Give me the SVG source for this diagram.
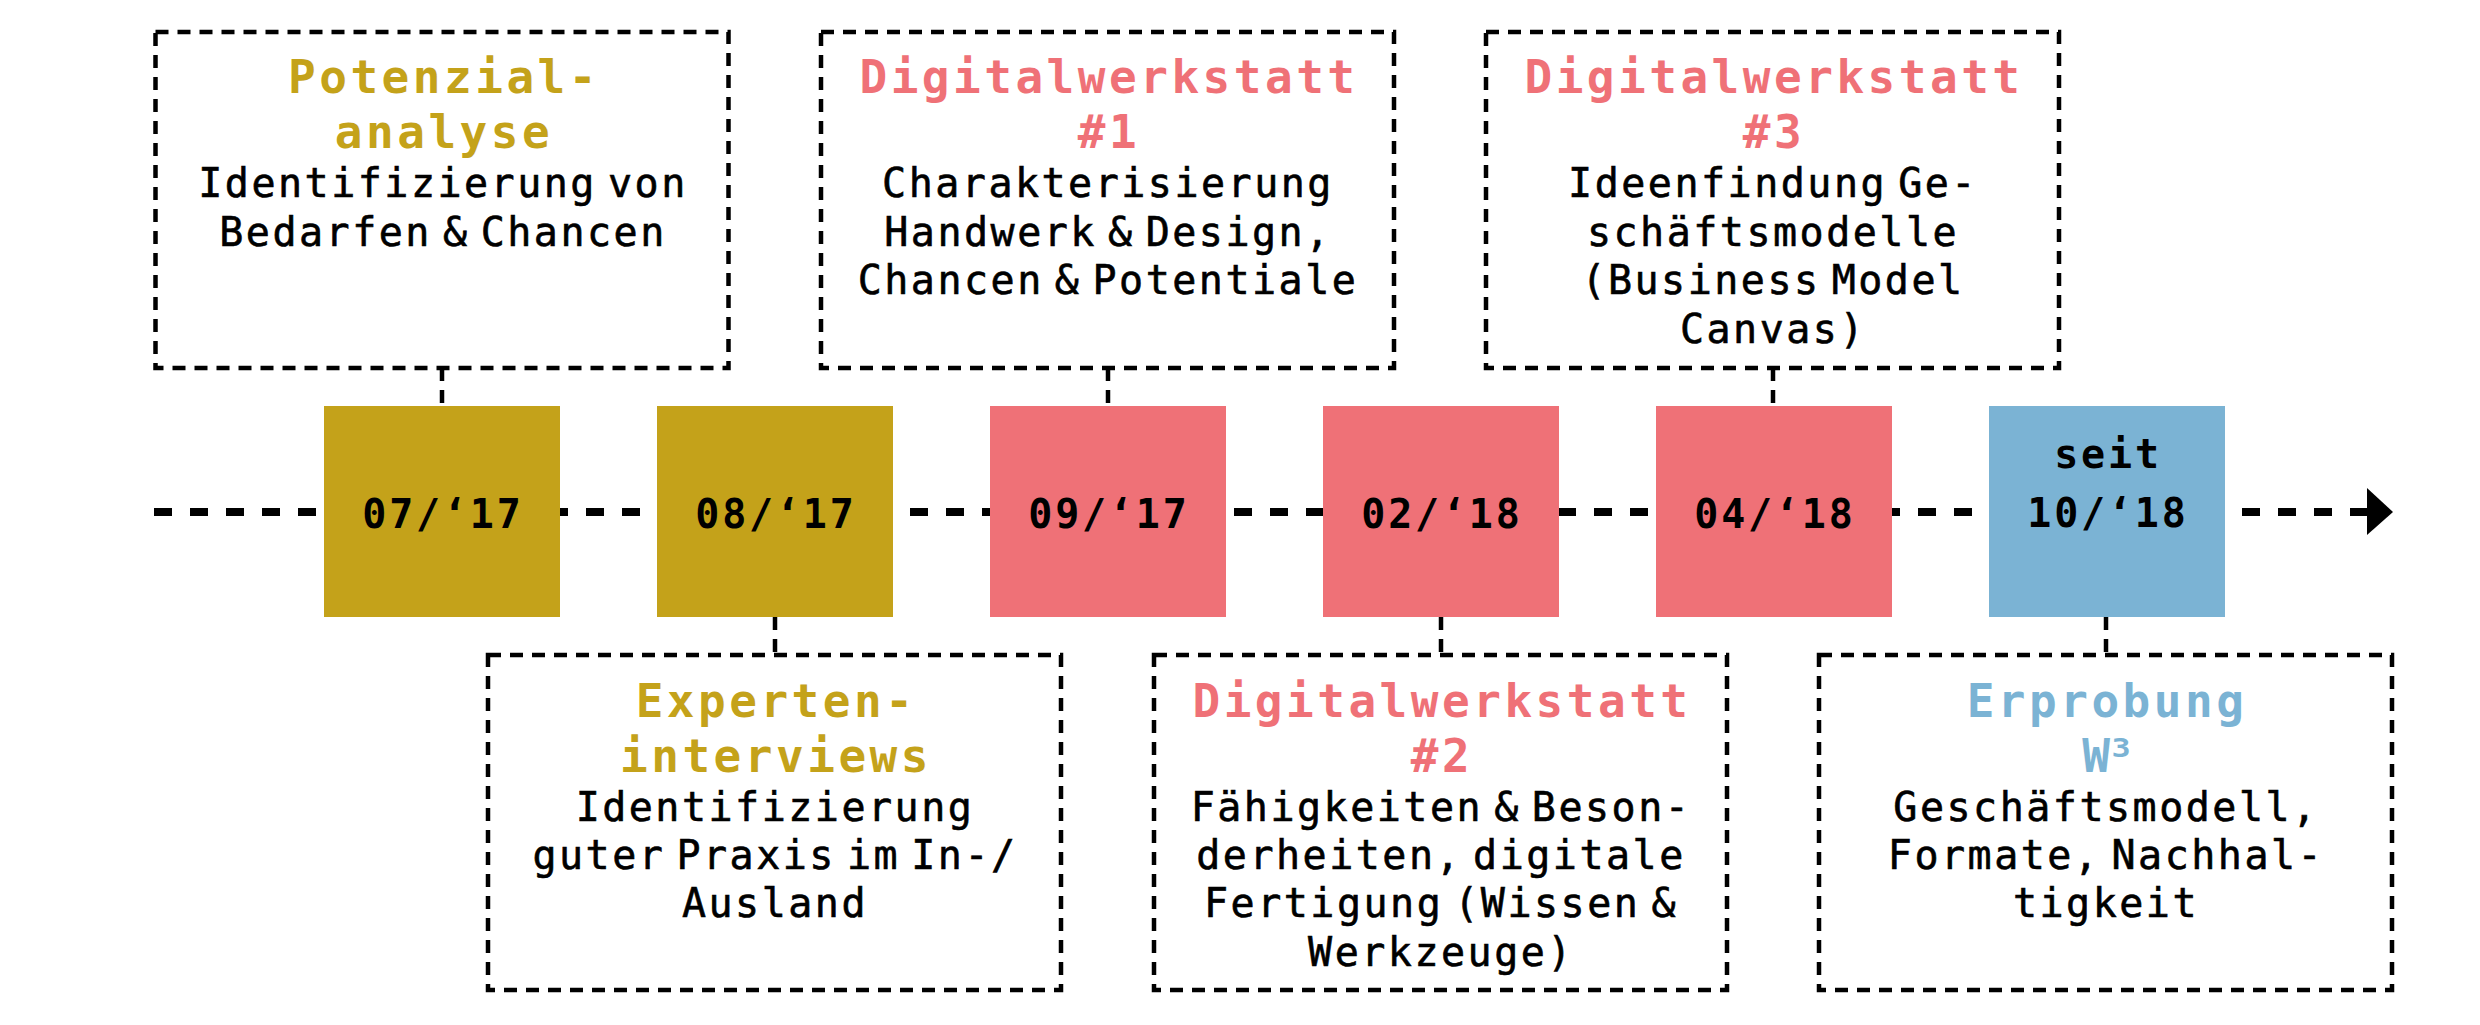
<svg xmlns="http://www.w3.org/2000/svg" width="2480" height="1025" viewBox="0 0 2480 1025">
<defs>
<style>
.box{fill:none;stroke:#000;stroke-width:4.5;stroke-dasharray:13 9}
.stub{stroke:#000;stroke-width:4.5;stroke-dasharray:13 9}
.axis{stroke:#000;stroke-width:8;stroke-dasharray:18 18;fill:none}
.h{font-family:"DejaVu Sans Mono","Liberation Mono",monospace;font-weight:bold;font-size:46px;letter-spacing:3.5px;text-anchor:middle}
.b{font-family:"DejaVu Sans Mono","Liberation Mono",monospace;font-size:40px;letter-spacing:2.5px;word-spacing:-15.5px;text-anchor:middle;fill:#000;stroke:#000;stroke-width:0.6px}
.d{font-family:"DejaVu Sans Mono","Liberation Mono",monospace;font-weight:bold;font-size:40px;letter-spacing:2.8px;text-anchor:middle;fill:#000}
.gold{fill:#C4A21A}
.pink{fill:#EF7177}
.blue{fill:#7BB3D4}
</style>
<marker id="arrow" markerUnits="userSpaceOnUse" markerWidth="30" markerHeight="50" refX="0" refY="24" orient="auto" viewBox="0 0 30 50">
<polygon points="0,0 26,24 0,47" fill="#000"/>
</marker>
</defs>
<rect width="2480" height="1025" fill="#fff"/>

<g id="connectors">
<line class="axis" x1="154" y1="512" x2="2367" y2="512" marker-end="url(#arrow)"/>
<line class="stub" x1="442" y1="368" x2="442" y2="406"/>
<line class="stub" x1="1108" y1="368" x2="1108" y2="406"/>
<line class="stub" x1="1773" y1="368" x2="1773" y2="406"/>
<line class="stub" x1="775" y1="617" x2="775" y2="655"/>
<line class="stub" x1="1441" y1="617" x2="1441" y2="655"/>
<line class="stub" x1="2106" y1="617" x2="2106" y2="655"/>
</g>

<g id="date-0717">
<rect class="gold" x="324" y="406" width="236" height="211"/>
<text class="d" x="443" y="528">07/‘17</text>
</g>
<g id="date-0817">
<rect class="gold" x="657" y="406" width="236" height="211"/>
<text class="d" x="776" y="528">08/‘17</text>
</g>
<g id="date-0917">
<rect class="pink" x="990" y="406" width="236" height="211"/>
<text class="d" x="1109" y="528">09/‘17</text>
</g>
<g id="date-0218">
<rect class="pink" x="1323" y="406" width="236" height="211"/>
<text class="d" x="1442" y="528">02/‘18</text>
</g>
<g id="date-0418">
<rect class="pink" x="1656" y="406" width="236" height="211"/>
<text class="d" x="1775" y="528">04/‘18</text>
</g>
<g id="date-1018">
<rect class="blue" x="1989" y="406" width="236" height="211"/>
<text class="d" x="2108" y="468">seit</text>
<text class="d" x="2108" y="527">10/‘18</text>
</g>

<g id="potenzialanalyse">
<rect class="box" x="155.5" y="32" width="573" height="336"/>
<text class="h gold" x="444" y="93">Potenzial-</text>
<text class="h gold" x="444" y="148">analyse</text>
<text class="b" x="443" y="197">Identifizierung von</text>
<text class="b" x="443" y="246">Bedarfen &amp; Chancen</text>
</g>

<g id="digitalwerkstatt-1">
<rect class="box" x="821" y="32" width="573" height="336"/>
<text class="h pink" x="1109" y="93">Digitalwerkstatt</text>
<text class="h pink" x="1109" y="148">#1</text>
<text class="b" x="1108" y="197">Charakterisierung</text>
<text class="b" x="1108" y="246">Handwerk &amp; Design,</text>
<text class="b" x="1108" y="294">Chancen &amp; Potentiale</text>
</g>

<g id="digitalwerkstatt-3">
<rect class="box" x="1486" y="32" width="573" height="336"/>
<text class="h pink" x="1774" y="93">Digitalwerkstatt</text>
<text class="h pink" x="1774" y="148">#3</text>
<text class="b" x="1773" y="197">Ideenfindung Ge-</text>
<text class="b" x="1773" y="246">schäftsmodelle</text>
<text class="b" x="1773" y="294">(Business Model</text>
<text class="b" x="1773" y="343">Canvas)</text>
</g>

<g id="experteninterviews">
<rect class="box" x="488" y="655" width="573" height="335"/>
<text class="h gold" x="776" y="717">Experten-</text>
<text class="h gold" x="776" y="772">interviews</text>
<text class="b" x="775" y="821">Identifizierung</text>
<text class="b" x="775" y="869">guter Praxis im In-/</text>
<text class="b" x="775" y="917">Ausland</text>
</g>

<g id="digitalwerkstatt-2">
<rect class="box" x="1154" y="655" width="573" height="335"/>
<text class="h pink" x="1442" y="717">Digitalwerkstatt</text>
<text class="h pink" x="1442" y="772">#2</text>
<text class="b" x="1441" y="821">Fähigkeiten &amp; Beson-</text>
<text class="b" x="1441" y="869">derheiten, digitale</text>
<text class="b" x="1441" y="917">Fertigung (Wissen &amp;</text>
<text class="b" x="1441" y="966">Werkzeuge)</text>
</g>

<g id="erprobung">
<rect class="box" x="1819" y="655" width="573" height="335"/>
<text class="h blue" x="2107" y="717">Erprobung</text>
<text class="h blue" x="2107" y="772" style="letter-spacing:-3px">W³</text>
<text class="b" x="2106" y="821">Geschäftsmodell,</text>
<text class="b" x="2106" y="869">Formate, Nachhal-</text>
<text class="b" x="2106" y="917">tigkeit</text>
</g>
</svg>
